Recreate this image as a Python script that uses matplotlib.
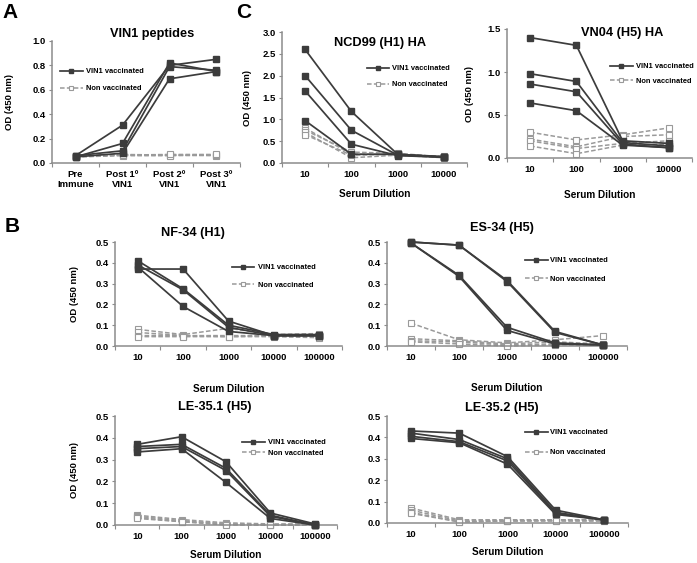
import numpy as np
import matplotlib
matplotlib.use('Agg')
import matplotlib.pyplot as plt
from matplotlib.ticker import FixedLocator, FormatStrFormatter

plt.rcParams['font.family'] = ['Liberation Sans', 'DejaVu Sans']
plt.rcParams['font.weight'] = 'bold'

W, H = 697, 563
VAC = '#3c3c3c'
NON = '#9a9a9a'
SPINE = '#8c8c8c'

# ---- data ----
stages = ['Pre\nImmune', 'Post 1º\nVIN1', 'Post 2º\nVIN1', 'Post 3º\nVIN1']
dil_c = ['10', '100', '1000', '10000']
dil_b = ['10', '100', '1000', '10000', '100000']

a_vac = [[0.06, 0.31, 0.80, 0.85],
         [0.05, 0.16, 0.82, 0.75],
         [0.06, 0.10, 0.79, 0.76],
         [0.05, 0.08, 0.69, 0.75]]
a_non = [[0.05, 0.065, 0.065, 0.065],
         [0.06, 0.07, 0.065, 0.06],
         [0.05, 0.06, 0.06, 0.065],
         [0.055, 0.065, 0.07, 0.07]]

ncd_vac = [[2.60, 1.18, 0.20, 0.14],
           [2.00, 0.75, 0.18, 0.14],
           [1.65, 0.43, 0.17, 0.13],
           [0.97, 0.20, 0.20, 0.14]]
ncd_non = [[0.80, 0.20, 0.20, 0.13],
           [0.75, 0.25, 0.22, 0.14],
           [0.70, 0.12, 0.18, 0.12],
           [0.65, 0.18, 0.20, 0.15]]

vn_vac = [[1.40, 1.31, 0.20, 0.17],
          [0.98, 0.89, 0.18, 0.14],
          [0.86, 0.77, 0.16, 0.12],
          [0.64, 0.55, 0.15, 0.12]]
vn_non = [[0.30, 0.21, 0.27, 0.35],
          [0.22, 0.13, 0.25, 0.27],
          [0.20, 0.11, 0.17, 0.20],
          [0.14, 0.05, 0.15, 0.16]]

nf_vac = [[0.37, 0.37, 0.12, 0.05, 0.05],
          [0.41, 0.275, 0.10, 0.055, 0.055],
          [0.39, 0.27, 0.09, 0.05, 0.05],
          [0.38, 0.19, 0.07, 0.05, 0.05]]
nf_non = [[0.08, 0.055, 0.085, 0.055, 0.06],
          [0.065, 0.05, 0.05, 0.05, 0.05],
          [0.05, 0.05, 0.045, 0.05, 0.045],
          [0.045, 0.045, 0.045, 0.045, 0.04]]

es_vac = [[0.50, 0.485, 0.315, 0.07, 0.005],
          [0.50, 0.485, 0.31, 0.065, 0.005],
          [0.495, 0.34, 0.09, 0.015, 0.005],
          [0.495, 0.335, 0.075, 0.01, 0.005]]
es_non = [[0.11, 0.03, 0.015, 0.03, 0.05],
          [0.035, 0.025, 0.01, 0.02, 0.01],
          [0.025, 0.02, 0.005, 0.01, 0.005],
          [0.02, 0.01, 0.0, 0.005, 0.005]]

le1_vac = [[0.37, 0.405, 0.29, 0.055, 0.005],
           [0.36, 0.37, 0.26, 0.045, 0.0],
           [0.35, 0.36, 0.25, 0.04, 0.0],
           [0.335, 0.35, 0.195, 0.03, 0.0]]
le1_non = [[0.045, 0.025, 0.01, 0.005, 0.005],
           [0.04, 0.02, 0.005, 0.0, 0.005],
           [0.035, 0.015, 0.005, 0.0, 0.0],
           [0.03, 0.015, 0.0, 0.0, 0.0]]

le2_vac = [[0.43, 0.42, 0.31, 0.06, 0.015],
           [0.42, 0.39, 0.30, 0.05, 0.015],
           [0.405, 0.38, 0.29, 0.045, 0.015],
           [0.395, 0.375, 0.275, 0.04, 0.015]]
le2_non = [[0.07, 0.015, 0.015, 0.015, 0.015],
           [0.06, 0.01, 0.01, 0.015, 0.015],
           [0.05, 0.005, 0.01, 0.01, 0.01],
           [0.045, 0.005, 0.01, 0.01, 0.01]]

fig = plt.figure(figsize=(W / 100, H / 100), dpi=100)
fig.patch.set_facecolor('white')


def fx(px):
    return px / W


def fy(py):
    return 1 - py / H


def panel(box, cats, vac, non, ymax, ystep, title, title_xy, leg, ylab_x=None,
          xlab_y=None, tick_fs=6.8):
    x0, x1, ytop, ybot = box
    ax = fig.add_axes([fx(x0), fy(ybot), fx(x1 - x0), (ybot - ytop) / H])
    x = np.arange(len(cats))
    # non vaccinated first so vaccinated lines sit on top
    for i, row in enumerate(non):
        ax.plot(x, row, color=NON, lw=1.1, ls=(0, (3, 1.5)), marker='s', ms=4,
                mfc='white', mec=NON, mew=0.8, clip_on=False, zorder=2,
                label='Non vaccinated' if i == 0 else None)
    for i, row in enumerate(vac):
        ax.plot(x, row, color=VAC, lw=1.25, marker='s', ms=4.2, mfc=VAC,
                mec=VAC, clip_on=False, zorder=3,
                label='VIN1 vaccinated' if i == 0 else None)

    ax.set_xlim(-0.5, len(cats) - 0.5)
    ax.set_ylim(0, ymax)
    ax.set_yticks(np.arange(0, ymax + ystep / 2, ystep))
    ax.yaxis.set_major_formatter(FormatStrFormatter('%.1f'))
    ax.xaxis.set_major_locator(FixedLocator(np.arange(-0.5, len(cats), 1.0)))
    ax.xaxis.set_minor_locator(FixedLocator(x))
    ax.set_xticklabels([], minor=False)
    ax.set_xticklabels(cats, minor=True)
    ax.tick_params(axis='x', which='major', length=3, width=0.8,
                   color=SPINE, direction='out')
    ax.tick_params(axis='x', which='minor', length=0, pad=5,
                   labelsize=tick_fs)
    ax.tick_params(axis='y', length=2.5, width=0.8, color=SPINE,
                   labelsize=6.8, pad=2)
    for lab in ax.get_xticklabels(minor=True) + ax.get_yticklabels():
        lab.set_fontweight('bold')
    for s in ['top', 'right']:
        ax.spines[s].set_visible(False)
    for s in ['left', 'bottom']:
        ax.spines[s].set_color(SPINE)
        ax.spines[s].set_linewidth(1.1)

    if ylab_x is not None:
        ax.set_ylabel('OD (450 nm)', fontsize=6.8, fontweight='bold')
        ax.yaxis.set_label_coords((ylab_x - x0) / (x1 - x0), 0.5)
    if xlab_y is not None:
        ax.set_xlabel('Serum Dilution', fontsize=7.2, fontweight='bold')
        ax.xaxis.set_label_coords(0.5, -(xlab_y - ybot) / (ybot - ytop))

    fig.text(fx(title_xy[0]), fy(title_xy[1]), title, ha='center',
             va='center', fontsize=9.2, fontweight='bold')

    lx, ly, gap = leg
    h, l = ax.get_legend_handles_labels()
    order = [l.index('VIN1 vaccinated'), l.index('Non vaccinated')]
    ax.legend([h[k] for k in order], [l[k] for k in order],
              loc='upper left', bbox_to_anchor=(fx(lx), fy(ly)),
              bbox_transform=fig.transFigure, frameon=False,
              prop={'size': 5.4, 'weight': 'bold'}, handlelength=3.0,
              handletextpad=0.4, labelspacing=gap, borderpad=0,
              borderaxespad=0, numpoints=1, markerscale=0.8)
    return ax


# Panel A
panel((52, 240, 41, 163), stages, a_vac, a_non, 1.0, 0.2, 'VIN1 peptides',
      (152, 34), (60, 68, 1.3), ylab_x=14)
# Panel C
panel((282, 467, 32, 163), dil_c, ncd_vac, ncd_non, 3.0, 0.5,
      'NCD99 (H1) HA', (380, 43), (367, 65, 1.2), ylab_x=252, xlab_y=189)
panel((507, 692, 29, 158), dil_c, vn_vac, vn_non, 1.5, 0.5,
      'VN04 (H5) HA', (622, 33), (610, 63, 1.0), ylab_x=474, xlab_y=190)
# Panel B
panel((115, 342, 242, 346), dil_b, nf_vac, nf_non, 0.5, 0.1, 'NF-34 (H1)',
      (193, 233), (232, 264, 1.4), ylab_x=79, xlab_y=384)
panel((387, 627, 242, 346), dil_b, es_vac, es_non, 0.5, 0.1, 'ES-34 (H5)',
      (502, 228), (525, 257, 1.5), xlab_y=383)
panel((115, 337, 416, 525), dil_b, le1_vac, le1_non, 0.5, 0.1,
      'LE-35.1 (H5)', (215, 407), (242, 439, 0.45), ylab_x=79, xlab_y=550)
panel((387, 628, 416, 523), dil_b, le2_vac, le2_non, 0.5, 0.1,
      'LE-35.2 (H5)', (502, 408), (525, 429, 1.7), xlab_y=547)

for letter, (px, py) in {'A': (10, 13), 'C': (244, 13), 'B': (12, 227)}.items():
    fig.text(fx(px), fy(py), letter, ha='center', va='center', fontsize=15,
             fontweight='bold')

fig.savefig('out.png', dpi=100)
